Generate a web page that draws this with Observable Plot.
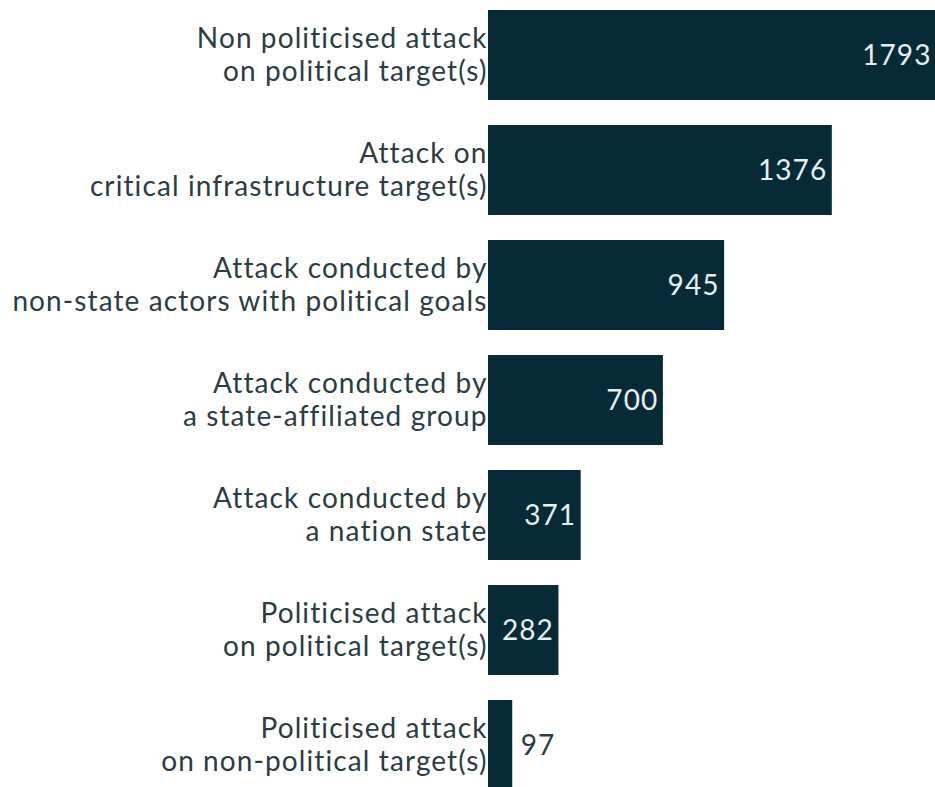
<!DOCTYPE html>
<html>
<head>
<meta charset="utf-8">
<script src="https://cdn.jsdelivr.net/npm/d3@7"></script>
<script src="https://cdn.jsdelivr.net/npm/@observablehq/plot@0.6"></script>
<style>
  html, body { margin: 0; padding: 0; background: #ffffff; }
  #chart svg { display: block; overflow: hidden; }
  #chart svg text { letter-spacing: 1.1px; }
</style>
</head>
<body>
<div id="chart"></div>
<script>
const categories = [
  "Non politicised attack\non political target(s)",
  "Attack on\ncritical infrastructure target(s)",
  "Attack conducted by\nnon-state actors with political goals",
  "Attack conducted by\na state-affiliated group",
  "Attack conducted by\na nation state",
  "Politicised attack\non political target(s)",
  "Politicised attack\non non-political target(s)"
];
const values = [1793, 1376, 945, 700, 371, 282, 97];

const data = categories.map((c, i) => ({category: c, value: values[i]}));
const inside = data.filter(d => d.value >= 200);
const outside = data.filter(d => d.value < 200);

const barColor = "#072a37";
const textColor = "#2c3c44";

const chart = Plot.plot({
  width: 935,
  height: 787,
  marginTop: 0, marginBottom: 0, marginLeft: 0, marginRight: 0,
  style: {fontFamily: "Lato, 'Open Sans', sans-serif", background: "#ffffff"},
  x: {domain: [0, 1793], range: [488, 936], axis: null},
  y: {domain: categories, range: [-15, 815], padding: 0.2174, round: false, axis: null},
  marks: [
    Plot.barX(data, {x: "value", y: "category", fill: barColor}),
    Plot.text(data, {
      x: 0, y: "category", text: "category",
      textAnchor: "end", dx: -1, dy: -2, fontSize: 28, lineHeight: 1.18,
      fill: textColor
    }),
    Plot.text(inside, {
      x: "value", y: "category", text: d => String(d.value),
      textAnchor: "end", dx: -5, dy: 1, fontSize: 28, fill: "#e6f0f0"
    }),
    Plot.text(outside, {
      x: "value", y: "category", text: d => String(d.value),
      textAnchor: "start", dx: 8, dy: 1, fontSize: 28, fill: textColor
    })
  ]
});
document.getElementById("chart").appendChild(chart);
</script>
</body>
</html>
